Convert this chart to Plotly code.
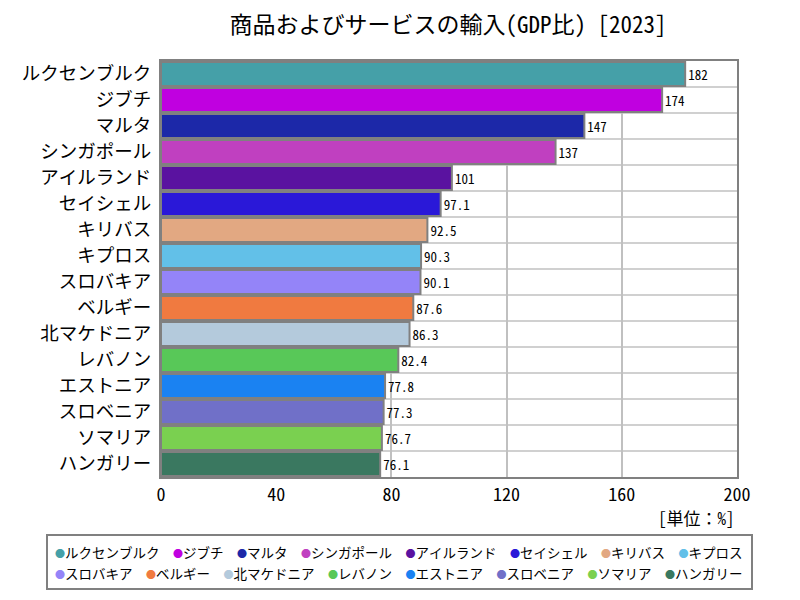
import plotly.graph_objects as go

countries = ["ルクセンブルク", "ジブチ", "マルタ", "シンガポール", "アイルランド", "セイシェル",
             "キリバス", "キプロス", "スロバキア", "ベルギー", "北マケドニア", "レバノン",
             "エストニア", "スロベニア", "ソマリア", "ハンガリー"]
values = [182, 174, 147, 137, 101, 97.1, 92.5, 90.3, 90.1, 87.6, 86.3, 82.4, 77.8, 77.3, 76.7, 76.1]
labels = ["182", "174", "147", "137", "101", "97.1", "92.5", "90.3", "90.1", "87.6", "86.3",
          "82.4", "77.8", "77.3", "76.7", "76.1"]
colors = ["#45a0a8", "#c000e0", "#1c28a8", "#c040c0", "#5a12a0", "#2a18d8", "#e2a882", "#62c0e8",
          "#9484f8", "#f07a40", "#b4cadc", "#58c858", "#1a82f2", "#7070c8", "#7ad050", "#3a7860"]
x_ticks = [0, 40, 80, 120, 160, 200]

FONT = "Noto Sans Mono CJK JP, Noto Sans CJK JP, sans-serif"

# plot area in pixels
L, R, T, B = 161, 737, 61, 477
PW, PH = R - L, B - T


def px_x(px):
    return (px - L) / PW


def px_y(py):
    return (B - py) / PH


fig = go.Figure()
for c, v, t, col in zip(countries, values, labels, colors):
    fig.add_trace(go.Bar(
        x=[v], y=[c], orientation="h", name=c, showlegend=False,
        marker=dict(color=col, line=dict(color="#808080", width=2)),
        text=[t], textposition="outside", cliponaxis=False,
        textfont=dict(size=13, color="#000000", family=FONT),
        hoverinfo="x+y",
    ))

# legend rows as text built from the data arrays
half = len(countries) // 2
rows = [list(zip(countries[:half], colors[:half])), list(zip(countries[half:], colors[half:]))]
legend_ann = []
for i, row in enumerate(rows):
    txt = "  ".join(f"<span style='color:{col};font-size:10px'>●</span>{name}" for name, col in row)
    legend_ann.append(dict(text=txt, x=px_x(53), xref="paper", xanchor="left",
                           y=px_y(552 + 21 * i), yref="paper", yanchor="middle",
                           showarrow=False, font=dict(size=13.5, family=FONT, color="#000000")))

fig.update_layout(
    width=800, height=600,
    paper_bgcolor="white", plot_bgcolor="white",
    font=dict(family=FONT, color="#000000"),
    title=dict(text="商品およびサービスの輸入(GDP比) [2023]", x=px_x(448), xref="paper", xanchor="center",
               y=1 - 25 / 600, yanchor="middle", font=dict(size=23, family=FONT, color="#000000")),
    margin=dict(l=L, r=800 - R, t=T, b=600 - B, autoexpand=False),
    barmode="overlay", bargap=0.08,
    showlegend=False,
    xaxis=dict(range=[0, 200], tickvals=x_ticks, ticktext=[str(t) for t in x_ticks],
               showgrid=True, gridcolor="#c0c0c0", gridwidth=1.5,
               showline=True, linecolor="#808080", linewidth=2, mirror=True,
               ticks="", tickfont=dict(size=18, family=FONT), zeroline=False, automargin=False),
    yaxis=dict(categoryorder="array", categoryarray=countries[::-1],
               showgrid=False, showline=True, linecolor="#808080", linewidth=2, mirror=True,
               tickfont=dict(size=18.5, family=FONT), ticks="", ticklabelstandoff=4, automargin=False),
    annotations=[dict(text="[単位：%]", x=1.0, xref="paper", xanchor="right",
                      y=px_y(517), yref="paper", yanchor="middle", showarrow=False,
                      font=dict(size=17, family=FONT))] + legend_ann,
    shapes=[dict(type="rect", xref="paper", yref="paper", x0=px_x(47), x1=px_x(752),
                 y0=px_y(535), y1=px_y(589), line=dict(color="#808080", width=2),
                 fillcolor="rgba(0,0,0,0)")],
)

# horizontal separators between categories
for i in range(len(countries) - 1):
    fig.add_shape(type="line", xref="paper", yref="y", x0=0, x1=1, y0=i + 0.5, y1=i + 0.5,
                  line=dict(color="#c0c0c0", width=1.5), layer="below")

fig.write_html("out.html", config={"displayModeBar": False},
               post_script="document.body.style.margin='0';")
